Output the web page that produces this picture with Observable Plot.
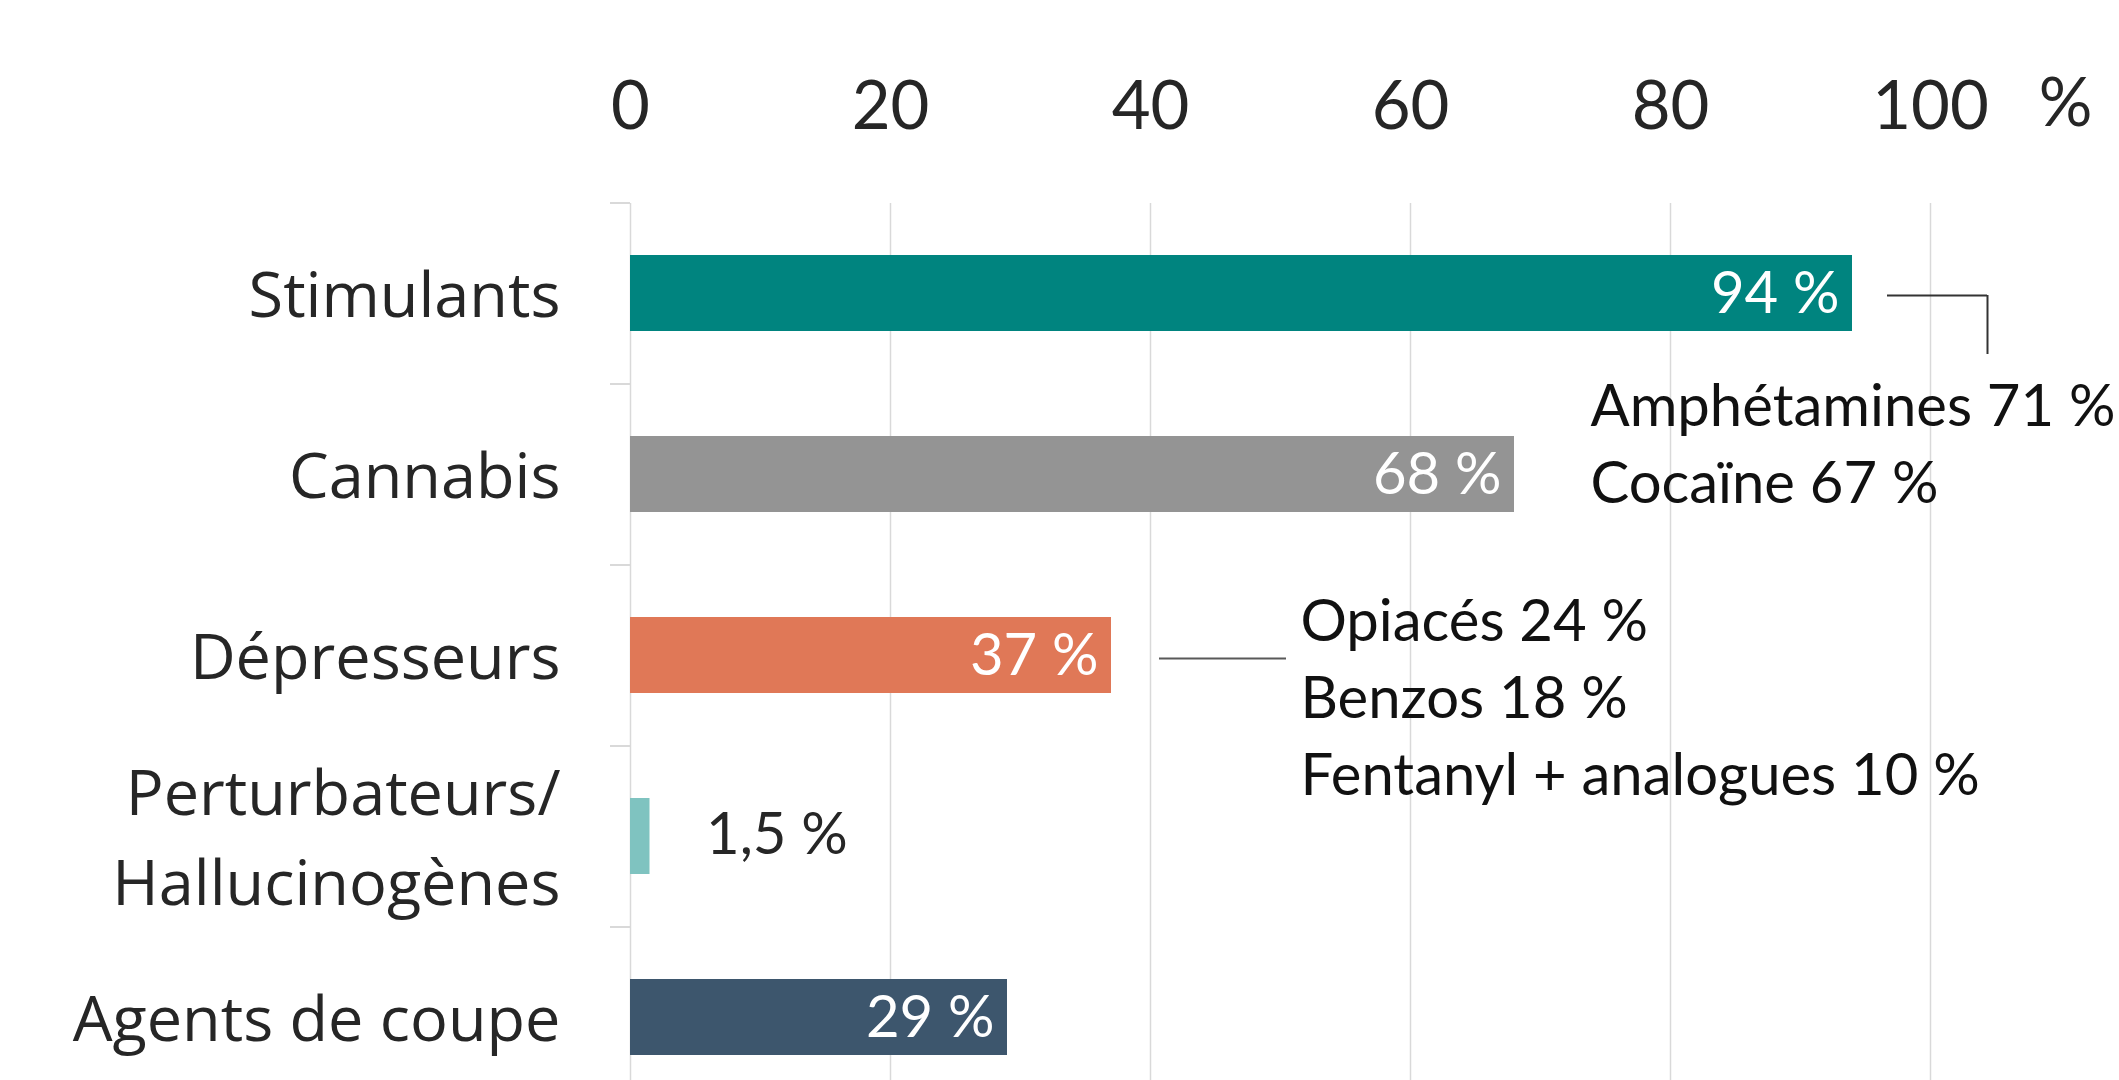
<!DOCTYPE html>
<html><head><meta charset="utf-8">
<script src="https://cdn.jsdelivr.net/npm/d3@7"></script>
<script src="https://cdn.jsdelivr.net/npm/@observablehq/plot@0.6"></script>
<style>html,body{margin:0;padding:0;background:#fff;overflow:hidden}</style>
</head><body><div id="chart"></div>
<script>
const categories = ["Stimulants", "Cannabis", "Dépresseurs", "Perturbateurs/\nHallucinogènes", "Agents de coupe"];
const values = [94, 68, 37, 1.5, 29];
const colors = ["#00847F", "#949494", "#E07857", "#7FC3C0", "#3D566D"];
const xTicks = [0, 20, 40, 60, 80, 100];
const unitLabel = "%";
const stimulantSubs = ["Amphétamines", "Cocaïne"];
const stimulantSubValues = [71, 67];
const depresseurSubs = ["Opiacés", "Benzos", "Fentanyl + analogues"];
const depresseurSubValues = [24, 18, 10];

const fmt = v => `${String(v).replace(".", ",")} %`;
const data = categories.map((c, i) => ({category: c, value: values[i]}));
const inside = data.filter(d => d.value >= 10);
const outside = data.filter(d => d.value < 10);
const stim = [data[0]];
const depr = [data[2]];
const stimText = stimulantSubs.map((s, i) => `${s} ${fmt(stimulantSubValues[i])}`).join("\n");
const deprText = depresseurSubs.map((s, i) => `${s} ${fmt(depresseurSubValues[i])}`).join("\n");

const plot = Plot.plot({
  width: 2119, height: 1080,
  marginLeft: 630, marginRight: 189, marginTop: 203, marginBottom: 0,
  style: {fontFamily: "Lato, sans-serif", color: "#262626", background: "#fff", overflow: "hidden"},
  x: {domain: [0, 100], axis: null},
  y: {domain: categories, range: [203, 1108], paddingInner: 0.58, paddingOuter: 0.29, axis: null},
  color: {domain: categories, range: colors},
  marks: [
    Plot.gridX(xTicks.slice(1), {stroke: "#d9d9d9", strokeOpacity: 1, strokeWidth: 1.5}),
    Plot.ruleX([0], {stroke: "#d9d9d9", strokeWidth: 1.5}),
    Plot.ruleY(categories, {y: d => d, x1: 0, x2: 0, insetLeft: -20, dy: -90.5, stroke: "#d9d9d9", strokeWidth: 2}),
    Plot.axisX(xTicks, {anchor: "top", tickSize: 0, tickPadding: 96, lineAnchor: "middle", fontSize: 67, label: null, fill: "#262626"}),
    Plot.text([unitLabel], {frameAnchor: "top-right", textAnchor: "middle", lineAnchor: "middle", dx: 135, dy: -99, fontSize: 67, fill: "#262626"}),
    Plot.barX(data, {x: "value", y: "category", fill: "category"}),
    Plot.text(inside, {x: "value", y: "category", text: d => fmt(d.value), textAnchor: "end", dx: -13, dy: 1, fill: "white", fontSize: 58}),
    Plot.text(outside, {x: "value", y: "category", text: d => fmt(d.value), textAnchor: "start", dx: 56, dy: -1, fill: "#262626", fontSize: 58}),
    Plot.text(categories, {y: d => d, frameAnchor: "left", textAnchor: "end", dx: -70, dy: -5, fontFamily: "'Open Sans', sans-serif", fontSize: 63, lineHeight: 1.43, fill: "#262626"}),
    Plot.ruleY(stim, {y: "category", x1: "value", x2: "value", insetLeft: 35, insetRight: -135, dy: 2, stroke: "#333", strokeWidth: 2}),
    Plot.ruleX(stim, {x: "value", y1: "category", y2: "category", dx: 135, insetTop: 40, insetBottom: -23, stroke: "#333", strokeWidth: 2}),
    Plot.ruleY(depr, {y: "category", x1: "value", x2: "value", insetLeft: 48, insetRight: -175, dy: 3, stroke: "#595959", strokeWidth: 2}),
    Plot.text(stim, {x: "value", y: "category", text: () => stimText, textAnchor: "start", lineAnchor: "middle", dx: -262, dy: 146, fontSize: 58, lineHeight: 1.33, fill: "#111"}),
    Plot.text(depr, {x: "value", y: "category", text: () => deprText, textAnchor: "start", lineAnchor: "middle", dx: 189, dy: 38, fontSize: 58, lineHeight: 1.33, fill: "#111"})
  ]
});
document.getElementById("chart").appendChild(plot);
</script>
</body></html>
